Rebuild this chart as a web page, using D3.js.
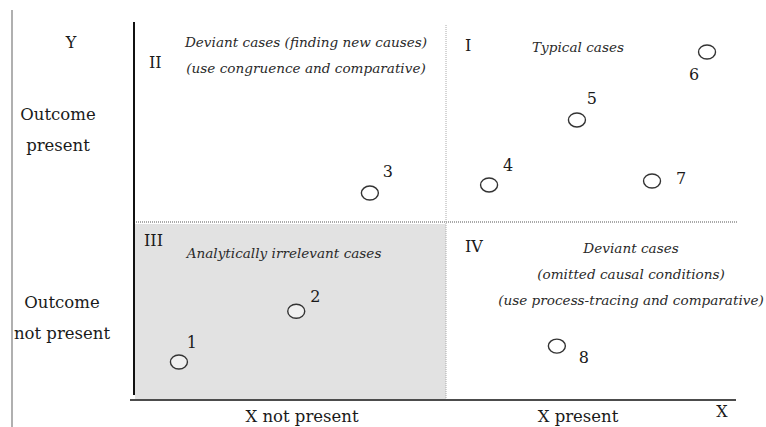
<!DOCTYPE html>
<html>
  <head>
    <script src="https://d3js.org/d3.v7.min.js"></script>
    <style>
      body { margin: 0; background: #fff; }
      text { font-family: "DejaVu Serif", serif; fill: #1a1a1a; }
      .note { font-style: italic; fill: #2a2a2a; }
    </style>
  </head>
  <body>
    <div id="graph"></div>
  <script>
    // cases, in quadrant units (0-1 = not present, 1-2 = present)
    var caseIds = ["1", "2", "3", "4", "5", "6", "7", "8"];
    var caseX = [0.144, 0.52, 0.756, 1.148, 1.45, 1.897, 1.708, 1.381];
    var caseY = [0.2, 0.49, 1.147, 1.188, 1.518, 1.863, 1.208, 0.291];

    var quadrantNames = ["II", "I", "III", "IV"];
    var quadrantNotes = [
      ["Deviant cases (finding new causes)", "(use congruence and comparative)"],
      ["Typical cases"],
      ["Analytically irrelevant cases"],
      ["Deviant cases", "(omitted causal conditions)", "(use process-tracing and comparative)"]
    ];
    var xLabels = ["X not present", "X present"];
    var yLabels = [["Outcome", "not present"], ["Outcome", "present"]];

    var width = 766, height = 427;

    var svg = d3.select("#graph")
                .append("svg")
                .attr("width", width)
                .attr("height", height);

    var x = d3.scaleLinear().domain([0, 1, 2]).range([134, 446, 737]);
    var y = d3.scaleLinear().domain([0, 1, 2]).range([397, 222, 25]);

    // grey rule on the far left
    svg.append("line")
       .attr("x1", 12).attr("x2", 12)
       .attr("y1", 10).attr("y2", height)
       .attr("stroke", "#b0b0b0")
       .attr("stroke-width", 2);

    // shaded quadrant III
    svg.append("rect")
       .attr("x", x(0) + 1)
       .attr("y", y(1) + 2)
       .attr("width", x(1) - x(0) - 1)
       .attr("height", y(0) - y(1))
       .attr("fill", "#e2e2e2");

    // dotted dividers
    svg.append("line")
       .attr("x1", x(1)).attr("x2", x(1))
       .attr("y1", y(2)).attr("y2", y(0) + 2)
       .attr("stroke", "#aaa")
       .attr("stroke-dasharray", "1,1");
    svg.append("line")
       .attr("x1", x(0)).attr("x2", x(2))
       .attr("y1", y(1)).attr("y2", y(1))
       .attr("stroke", "#aaa")
       .attr("stroke-width", 2)
       .attr("stroke-dasharray", "1,1");

    // axes
    svg.append("line")
       .attr("x1", x(0)).attr("x2", x(0))
       .attr("y1", 22).attr("y2", 395)
       .attr("stroke", "#111")
       .attr("stroke-width", 2);
    svg.append("line")
       .attr("x1", 130).attr("x2", 736)
       .attr("y1", 400).attr("y2", 400)
       .attr("stroke", "#111")
       .attr("stroke-width", 1.5);

    // axis titles
    svg.append("text").attr("x", 71).attr("y", 48)
       .attr("text-anchor", "middle").style("font-size", "16px").text("Y");
    svg.append("text").attr("x", 722).attr("y", 417)
       .attr("text-anchor", "middle").style("font-size", "16px").text("X");

    var xMid = [302, 578];
    svg.selectAll(".xlab")
       .data(xLabels)
       .enter().append("text")
       .attr("class", "xlab")
       .attr("x", (d, i) => xMid[i])
       .attr("y", 422)
       .attr("text-anchor", "middle")
       .style("font-size", "16.5px")
       .text(d => d);

    var yLab = svg.selectAll(".ylab")
       .data(yLabels)
       .enter().append("text")
       .attr("class", "ylab")
       .attr("text-anchor", "middle")
       .style("font-size", "16.5px");
    yLab.selectAll("tspan")
       .data((d, i) => d.map(t => ({t: t, i: i})))
       .enter().append("tspan")
       .attr("x", d => d.i == 1 ? 58 : 62)
       .attr("y", (d, j) => (d.i == 1 ? 120 : 308) + j * 31)
       .text(d => d.t);

    // quadrant numerals and notes
    var qx = [149, 465, 144, 465];
    var qy = [68, 51, 246, 252];
    svg.selectAll(".qname")
       .data(quadrantNames)
       .enter().append("text")
       .attr("class", "qname")
       .attr("x", (d, i) => qx[i])
       .attr("y", (d, i) => qy[i])
       .style("font-size", "16px")
       .text(d => d);

    var noteX = [306, 578, 284, 631];
    var noteY = [47, 52, 258, 253];
    var notes = svg.selectAll(".notes")
       .data(quadrantNotes)
       .enter().append("text")
       .attr("class", "note")
       .attr("text-anchor", "middle")
       .style("font-size", "13.6px");
    notes.selectAll("tspan")
       .data((d, i) => d.map(t => ({t: t, i: i})))
       .enter().append("tspan")
       .attr("x", d => noteX[d.i])
       .attr("y", (d, j) => noteY[d.i] + j * 26)
       .text(d => d.t);

    // cases
    var cases = caseIds.map((id, i) => ({id: id, x: caseX[i], y: caseY[i]}));
    var labelOffset = [[13, -14], [19, -9], [18, -16], [19, -14], [15, -16], [-13, 28], [29, 3], [27, 17]];

    svg.selectAll(".case")
       .data(cases)
       .enter().append("ellipse")
       .attr("class", "case")
       .attr("cx", d => x(d.x))
       .attr("cy", d => y(d.y))
       .attr("rx", 8.5)
       .attr("ry", 7)
       .attr("fill", d => (d.x < 1 && d.y < 1) ? "#f0f0f0" : "#fff")
       .attr("stroke", "#333")
       .attr("stroke-width", 1.4);

    svg.selectAll(".caselab")
       .data(cases)
       .enter().append("text")
       .attr("class", "caselab")
       .attr("x", (d, i) => x(d.x) + labelOffset[i][0])
       .attr("y", (d, i) => y(d.y) + labelOffset[i][1])
       .attr("text-anchor", "middle")
       .style("font-size", "16px")
       .text(d => d.id);
  </script>
  </body>
</html>
